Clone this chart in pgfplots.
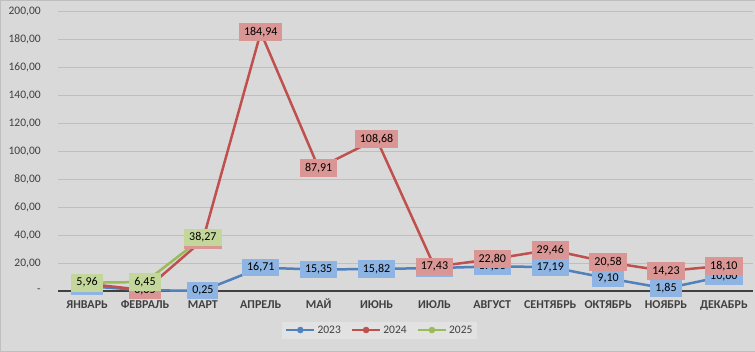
\documentclass[border=0pt]{standalone}
\usepackage{pgfplots}
\pgfplotsset{compat=1.18}
\usepackage{fontspec}
\setmainfont{Carlito}
\definecolor{bg}{HTML}{D9D9D9}
\definecolor{gridc}{HTML}{BFBFBF}
\definecolor{axc}{HTML}{404040}
\definecolor{txt}{HTML}{404040}
\definecolor{cblue}{HTML}{4F81BD}
\definecolor{cred}{HTML}{C0504D}
\definecolor{cgreen}{HTML}{9BBB59}
\definecolor{lblue}{HTML}{8DB4E2}
\definecolor{lred}{HTML}{DA9694}
\definecolor{lgreen}{HTML}{C4D79B}
\definecolor{legbg}{HTML}{E2E2E2}
\begin{document}
\begin{tikzpicture}
\fill[bg, draw=gridc] (-58pt,-60pt) rectangle (697pt,291pt);
\begin{axis}[
  scale only axis, width=695pt, height=280pt,
  xmin=-0.5, xmax=11.5, ymin=0, ymax=200,
  axis x line*=bottom, axis y line*=left,
  x axis line style={color=axc, line width=2pt, -},
  y axis line style={draw=none},
  major tick length=0pt,
  ymajorgrids, grid style={color=gridc, line width=0.8pt},
  ytick={0,20,...,200},
  yticklabels={{-\hspace{5pt}},{20,00},{40,00},{60,00},{80,00},{100,00},{120,00},{140,00},{160,00},{180,00},{200,00}},
  yticklabel style={font=\fontsize{11.5}{13}\selectfont, text=txt, xshift=-14pt},
  xtick={0,...,11},
  xticklabels={ЯНВАРЬ,ФЕВРАЛЬ,МАРТ,АПРЕЛЬ,МАЙ,ИЮНЬ,ИЮЛЬ,АВГУСТ,СЕНТЯБРЬ,ОКТЯБРЬ,НОЯБРЬ,ДЕКАБРЬ},
  xticklabel style={font=\fontsize{12}{14}\selectfont\bfseries, text=txt, text height=8.5pt, text depth=1pt, yshift=-5pt},
  /pgf/number format/.cd, fixed, fixed zerofill, precision=2, use comma, 1000 sep={}, assume math mode=true,
  /pgfplots/.cd,
  every node near coord/.append style={anchor=center, text=black, font=\fontsize{12}{14}\selectfont, inner xsep=5pt, inner ysep=4pt},
  legend columns=3,
  legend style={at={(0.463,0)}, anchor=center, yshift=-39pt, draw=none, fill=legbg,
    font=\fontsize{11.5}{13}\selectfont, text=txt,
    /tikz/every even column/.append style={column sep=8pt}},
  legend image code/.code={
    \draw[#1, mark=none] (0pt,0pt) -- (28pt,0pt);
    \draw[#1, mark size=3pt, line width=0.5pt] plot coordinates {(14pt,0pt)};
  },
]
% lines
\addplot[color=cblue, line width=2.5pt, mark=*, mark size=7pt] coordinates {
 (0,3.5) (1,0.5) (2,0.25) (3,16.71) (4,15.35) (5,15.82) (6,16.4) (7,17.58) (8,17.19) (9,9.10) (10,1.85) (11,10.60)};
\addplot[color=cred, line width=2.5pt, mark=*, mark size=7pt] coordinates {
 (0,5.2) (1,0.65) (2,36.5) (3,184.94) (4,87.91) (5,108.68) (6,17.43) (7,22.80) (8,29.46) (9,20.58) (10,14.23) (11,18.10)};
\addplot[color=cgreen, line width=2.5pt, mark=*, mark size=7pt] coordinates {
 (0,5.96) (1,6.45) (2,38.27)};
\legend{2023,2024,2025}
% labels
\addplot[draw=none, forget plot, nodes near coords, every node near coord/.append style={fill=lblue}] coordinates {
 (0,3.5) (1,0.5) (2,0.25) (3,16.71) (4,15.35) (5,15.82) (6,16.4) (7,17.58) (8,17.19) (9,9.10) (10,1.85) (11,10.60)};
\addplot[draw=none, forget plot, nodes near coords, every node near coord/.append style={fill=lred}] coordinates {
 (0,5.2) (1,0.65) (2,36.5) (3,184.94) (4,87.91) (5,108.68) (6,17.43) (7,22.80) (8,29.46) (9,20.58) (10,14.23) (11,18.10)};
\addplot[draw=none, forget plot, nodes near coords, every node near coord/.append style={fill=lgreen}] coordinates {
 (0,5.96) (1,6.45) (2,38.27)};
\end{axis}
\end{tikzpicture}
\end{document}
